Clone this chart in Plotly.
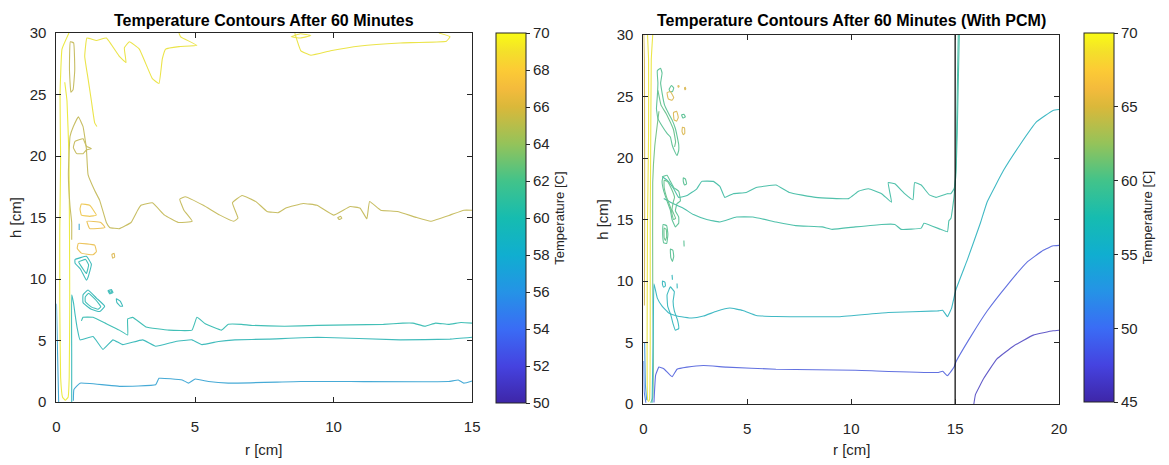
import plotly.graph_objects as go

# ---------------- data: contour paths (r [cm], h [cm]) ----------------
# LEFT panel (no PCM), colour scale 50..70
left_yel_wall = [(0.45,30),(0.2,28.7),(0.13,25),(0.15,19.8),(0.12,13.8),(0.12,8),(0.15,2),(0.22,0.4),(0.32,0.15),(0.42,0.4),(0.46,2),(0.48,8),(0.47,14),(0.45,20),(0.38,24.5),(0.3,26)]
left_olive_narrow = [(0.5,29.3),(0.62,29.2),(0.66,27),(0.6,25.4),(0.52,25.2),(0.47,27)]
left_olive_main = [(0.55,13.2),(0.55,14.6),(0.49,15.9),(0.43,18.5),(0.49,21.6),(0.61,22.4),(0.79,23.2),(0.96,22.4),(1.08,20.6),(1.14,18.5),(1.38,17.2),(1.56,16.4),(1.8,14.6),(1.92,14.2),(2.27,14.1),(2.69,14.6),(2.93,15.6),(3.05,16.0),(3.46,16.2),(3.9,15.2),(4.4,14.6),(4.9,14.7),(4.6,15.6),(4.45,16.5),(4.65,16.7),(5.3,16.0),(5.9,15.2),(6.4,14.7),(6.55,14.95),(6.35,16.2),(6.7,16.8),(7.2,16.3),(7.6,15.5),(8.0,15.4),(8.3,15.8),(8.9,16.15),(9.4,16.0),(10.0,15.2),(10.6,15.9),(10.96,15.76),(11.2,14.9),(11.3,16.3),(11.7,15.6),(12.3,15.5),(13.0,15.0),(13.5,14.7),(14.2,15.2),(14.7,15.6),(15.0,15.6)]
left_olive_loop20 = [(0.67,21.2),(0.96,21.4),(1.08,20.8),(1.26,20.6),(1.08,20.5),(0.96,20.2),(0.73,20.2),(0.61,20.7)]
left_yel_loop15 = [(0.9,16.1),(1.2,16.0),(1.44,15.2),(1.2,15.1),(0.9,15.2),(0.85,15.7)]
left_yel_top1 = [(1.46,22.4),(1.38,22.7),(1.26,24.5),(1.14,26.3),(1.02,28.1),(1.1,29.6),(1.44,29.4),(1.8,29.6),(2.27,28.1),(2.51,27.6),(2.45,28.8),(2.63,29.3),(2.99,28.7),(3.46,26.3),(3.70,25.9),(3.82,27.9),(3.94,28.7),(4.42,28.9),(5.07,29.0),(4.48,29.7),(4.42,30)]
left_yel_top2 = [(8.6,30),(8.82,28.56),(9.18,28.2),(9.89,28.56),(10.96,28.95),(12.4,29.2),(14.07,29.34),(14.2,29.7),(13.8,30)]
left_yel_toploop = [(8.47,29.7),(8.8,29.95),(9.18,29.8),(8.8,29.6)]
left_olive_dot15 = [(10.15,15.0),(10.25,15.1),(10.3,14.95),(10.2,14.85)]
left_olive_loop13 = [(0.79,12.9),(1.38,12.76),(1.44,12.24),(1.32,11.98),(0.90,12.11),(0.75,12.5)]
left_olive_loop14 = [(1.1,14.7),(1.6,14.6),(1.75,14.2),(1.2,14.1)]
left_olive_dot12 = [(2.0,12.0),(2.08,12.1),(2.1,11.8),(2.03,11.7)]
left_isl1_out = [(0.67,11.59),(1.08,11.85),(1.26,11.2),(1.14,10.15),(1.08,9.9),(0.87,10.8),(0.67,11.3)]
left_isl1_in = [(0.8,11.4),(1.05,11.6),(1.16,11.15),(1.08,10.45),(0.92,10.95)]
left_isl2_out = [(0.96,8.72),(1.14,9.11),(1.44,8.46),(1.74,7.8),(1.56,7.36),(1.26,7.54),(0.96,8.07)]
left_isl2_in = [(1.04,8.55),(1.16,8.85),(1.42,8.3),(1.6,7.75),(1.5,7.55),(1.27,7.72),(1.04,8.15)]
left_isl3_out = [(1.86,9.05),(1.98,9.15),(2.04,8.9),(1.92,8.8)]
left_isl3_in = [(1.9,9.0),(1.98,9.05),(2.0,8.92),(1.94,8.88)]
left_isl4 = [(2.16,8.4),(2.3,8.2),(2.39,7.8),(2.3,7.8),(2.18,8.1)]
left_teal_A = [(0.9,6.6),(0.96,6.89),(1.32,6.89),(1.80,6.37),(2.27,5.85),(2.57,5.45),(2.57,6.76),(2.75,6.89),(3.23,6.11),(4.06,5.85),(4.89,5.85),(5.07,6.89),(5.37,6.37),(5.96,5.85),(6.20,6.32),(6.68,6.32),(7.04,6.24),(8.23,6.16),(9.42,6.24),(11.8,6.32),(12.5,6.42),(12.86,6.42),(13.3,6.16),(13.68,6.42),(14.15,6.32),(14.6,6.47),(15.0,6.42)]
left_teal_B = [(0.55,0.0),(0.55,4.0),(0.55,8.72),(0.62,8.0),(0.67,7.15),(0.75,6.0),(0.85,5.06),(1.32,5.33),(1.68,4.28),(2.04,5.06),(2.39,4.67),(3.11,5.06),(3.58,4.54),(4.30,4.93),(4.89,5.06),(5.25,4.67),(5.85,4.93),(6.44,5.06),(7.64,5.12),(9.42,5.27),(12.4,5.06),(14.2,5.12),(15.0,5.27)]
left_blue_C = [(0.61,0.1),(0.63,1.02),(0.85,1.54),(2.27,1.28),(3.58,1.41),(3.70,1.93),(4.54,1.80),(4.77,1.54),(5.01,1.88),(5.49,1.67),(6.20,1.54),(8.82,1.67),(10.6,1.67),(14.15,1.67),(14.5,1.80),(14.7,1.54),(15.0,1.72)]
left_blue_D = [(0.0,8.0),(0.03,5.0),(0.06,2.0),(0.08,0.0)]
left_blue_tick = [(0.82,14.5),(0.82,14.0)]

LEFT_CONTOURS = [
    (69.8, False, left_yel_wall), (65.5, True, left_olive_narrow), (65.5, False, left_olive_main),
    (65.5, True, left_olive_loop20), (68.0, True, left_yel_loop15), (69.5, False, left_yel_top1),
    (69.5, False, left_yel_top2), (69.5, True, left_yel_toploop), (65.5, True, left_olive_dot15),
    (67.5, True, left_olive_loop13), (67.5, True, left_olive_loop14), (66.5, True, left_olive_dot12),
    (59.5, True, left_isl1_out), (59.8, True, left_isl1_in), (59.5, True, left_isl2_out),
    (59.8, True, left_isl2_in), (59.5, True, left_isl3_out), (59.8, True, left_isl3_in),
    (59.5, True, left_isl4), (60.0, False, left_teal_A), (59.5, False, left_teal_B),
    (57.0, False, left_blue_C), (57.0, False, left_blue_D), (57.0, False, left_blue_tick),
]

# RIGHT panel (with PCM), colour scale 45..70
right_yel_wall = [(0.45,30),(0.38,28),(0.35,20),(0.33,15),(0.33,5),(0.3,0.4),(0.25,0.2),(0.2,0.4),(0.18,5),(0.2,15),(0.22,17.5),(0.25,22),(0.25,28),(0.2,30)]
right_brown_wall = [(0.02,30),(0.05,28),(0.06,20),(0.06,14),(0.05,8)]
right_green_wall = [(0.75,23.8),(0.55,21),(0.45,18),(0.45,10),(0.48,3),(0.45,0.5),(0.35,0.1)]
right_blue_wall1 = [(0.01,3.5),(0.04,1.0),(0.12,0.1)]
right_blue_wall2 = [(0.06,5),(0.1,1.5),(0.16,0.3)]
right_teal_mid = [(0.42,0.1),(0.47,5.0),(0.51,9.78),(0.67,8.61),(0.9,7.96),(1.22,7.4),(1.62,7.15),(2.33,6.99),(2.89,7.15),(3.52,7.54),(4.16,7.8),(4.79,7.6),(5.43,7.2),(6.38,7.12),(9.4,7.1),(11.78,7.44),(14.16,7.57),(14.4,7.62),(14.63,7.1),(14.83,7.8),(15.03,9.26),(15.59,11.74),(16.22,14.74),(16.54,16.43),(17.33,19.0),(18.13,21.1),(18.92,22.95),(19.71,23.87),(20.0,23.95)]
right_blue_low = [(0.51,0.13),(0.59,2.35),(0.75,3.0),(0.98,2.87),(1.38,2.22),(1.62,2.83),(2.10,3.0),(2.89,3.13),(4.0,3.0),(6.38,2.83),(10.2,2.74),(14.16,2.56),(14.4,2.66),(14.63,2.30),(14.95,3.0),(15.03,3.4),(15.75,5.48),(16.54,7.56),(17.5,9.65),(18.44,11.5),(19.24,12.5),(19.71,12.86),(20.0,12.9)]
right_purple = [(15.9,0.0),(15.98,0.78),(16.38,2.09),(17.0,3.65),(17.8,4.7),(18.76,5.6),(19.71,5.95),(20.0,6.0)]
right_pair_upper = [(0.9,18.5),(1.14,18.2),(1.46,17.5),(1.70,16.8),(2.10,16.95),(2.57,17.5),(2.81,18.1),(3.37,18.1),(3.68,17.7),(3.92,16.8),(4.32,17.1),(4.95,17.2),(5.43,17.6),(6.38,17.8),(7.02,17.2),(8.29,16.8),(9.87,16.7),(10.35,17.3),(10.83,17.5),(11.46,17.1),(11.94,16.4),(11.78,18.0),(12.1,17.9),(12.57,17.1),(12.97,16.6),(13.05,18.0),(13.37,17.8),(13.76,17.0),(14.08,16.8),(14.63,17.1),(14.79,17.1),(14.95,17.5),(15.03,18.5),(15.1,22.0),(15.15,26.0),(15.2,30.0)]
right_pair_lower = [(0.98,16.7),(1.30,16.4),(1.94,15.9),(2.41,15.4),(3.05,15.0),(3.68,14.8),(4.48,15.2),(5.27,15.2),(6.38,14.8),(7.33,14.5),(8.6,14.4),(9.08,14.2),(10.2,14.4),(11.46,14.6),(12.1,14.6),(12.4,14.2),(13.37,14.3),(13.5,14.7),(14.3,14.2),(14.63,14.0),(14.7,14.9),(14.8,15.1),(14.95,16.9),(15.05,20.0),(15.1,25.0),(15.15,30.0)]
right_upper_out = [(0.67,27.1),(0.83,27.3),(0.90,26.9),(0.83,26.1),(0.90,25.3),(1.02,24.3),(1.22,23.6),(1.38,23.1),(1.54,22.4),(1.62,21.8),(1.70,21.1),(1.70,20.6),(1.62,20.2),(1.49,20.6),(1.38,21.1),(1.30,21.7),(1.14,22.0),(0.90,22.6),(0.70,23.2),(0.63,24.0),(0.67,25.0),(0.70,26.1)]
right_upper_in = [(0.7,25.5),(0.85,24.3),(1.1,23.6),(1.3,22.9),(1.45,22.3),(1.55,21.3),(1.5,20.9)]
right_lower_out = [(0.95,18.5),(1.14,18.6),(1.30,18.1),(1.46,17.6),(1.70,17.3),(1.78,16.5),(1.62,16.3),(1.54,15.7),(1.70,15.2),(1.70,14.7),(1.54,14.4),(1.38,15.0),(1.30,15.75),(1.14,16.5),(0.98,17.3),(0.90,18.1)]
right_lower_in = [(1.0,18.2),(1.15,18.1),(1.35,17.5),(1.5,16.8),(1.45,16.5),(1.38,15.8),(1.55,15.1),(1.45,15.0),(1.3,16.0),(1.1,16.9),(1.0,17.6)]
right_grn_isl_a = [(1.24,25.6),(1.35,25.9),(1.46,25.7),(1.4,25.4),(1.28,25.4)]
right_org_isl_a = [(1.14,25.3),(1.3,25.4),(1.46,24.9),(1.38,24.7),(1.2,24.8)]
right_org_dot1 = [(1.66,25.85),(1.7,25.9),(1.72,25.8),(1.68,25.75)]
right_org_dot2 = [(1.98,25.7),(2.02,25.75),(2.04,25.6),(2.0,25.55)]
right_org_isl_b = [(1.45,23.7),(1.6,23.8),(1.68,23.3),(1.6,23.0),(1.48,23.1)]
right_grn_isl_b = [(1.84,23.5),(1.95,23.55),(2.02,23.35),(1.9,23.25)]
right_org_isl_c = [(1.88,22.5),(1.98,22.45),(1.99,22.0),(1.92,21.9),(1.86,22.15)]
right_grn_isl_c = [(1.92,18.4),(2.02,18.3),(2.08,17.9),(1.98,17.8),(1.92,18.1)]
right_grn_isl_d = [(0.95,14.6),(1.12,14.5),(1.18,13.8),(1.12,13.05),(0.98,13.1),(0.93,13.8)]
right_grn_isl_d_in = [(1.0,14.3),(1.1,14.2),(1.12,13.6),(1.06,13.3),(1.0,13.5)]
right_grn_isl_e = [(1.3,12.6),(1.42,12.5),(1.46,12.0),(1.4,11.6),(1.32,11.9)]
right_grn_dot_f = [(1.95,13.3),(1.96,12.8)]
right_teal_isl_g = [(0.92,10.0),(1.04,9.9),(1.06,9.6),(0.98,9.5),(0.92,9.7)]
right_teal_dot_h = [(1.38,10.5),(1.40,10.1)]
right_teal_dot_i = [(1.62,9.8),(1.63,9.4)]
right_teal_dend = [(1.30,9.52),(1.49,9.13),(1.43,8.35),(1.49,7.57),(1.65,6.78),(1.70,6.13),(1.54,6.0),(1.43,6.52),(1.33,7.18),(1.17,7.96),(1.14,8.87)]

RIGHT_CONTOURS = [
    (69.5, False, right_yel_wall), (65.0, False, right_brown_wall), (61.0, False, right_green_wall),
    (50.0, False, right_blue_wall1), (52.5, False, right_blue_wall2), (56.0, False, right_teal_mid),
    (48.5, False, right_blue_low), (46.5, False, right_purple), (58.5, False, right_pair_upper),
    (58.5, False, right_pair_lower), (60.0, True, right_upper_out), (60.5, False, right_upper_in),
    (60.0, True, right_lower_out), (60.5, True, right_lower_in), (60.0, True, right_grn_isl_a),
    (65.5, True, right_org_isl_a), (65.5, True, right_org_dot1), (65.5, True, right_org_dot2),
    (65.5, True, right_org_isl_b), (60.0, True, right_grn_isl_b), (65.5, True, right_org_isl_c),
    (60.0, True, right_grn_isl_c), (60.0, True, right_grn_isl_d), (60.5, True, right_grn_isl_d_in),
    (60.0, True, right_grn_isl_e), (60.0, False, right_grn_dot_f), (56.5, True, right_teal_isl_g),
    (56.5, False, right_teal_dot_h), (56.5, False, right_teal_dot_i), (56.5, True, right_teal_dend),
]

pcm_wall_r = [15, 15]
pcm_wall_h = [0, 30]

left_cbar_ticks = [50, 52, 54, 56, 58, 60, 62, 64, 66, 68, 70]
right_cbar_ticks = [45, 50, 55, 60, 65, 70]
left_x_ticks = [0, 5, 10, 15]
right_x_ticks = [0, 5, 10, 15, 20]
y_ticks = [0, 5, 10, 15, 20, 25, 30]

# ---------------- styling ----------------
PARULA = [
    (0.00, (62, 38, 168)), (0.10, (69, 67, 224)), (0.20, (58, 108, 245)), (0.30, (37, 147, 230)),
    (0.40, (16, 174, 208)), (0.50, (22, 188, 176)), (0.60, (66, 195, 138)), (0.70, (148, 195, 90)),
    (0.80, (218, 184, 58)), (0.85, (244, 187, 60)), (0.90, (252, 203, 53)), (0.95, (244, 224, 42)),
    (1.00, (249, 251, 21)),
]
PARULA_SCALE = [[p, "rgb(%d,%d,%d)" % c] for p, c in PARULA]


def parula(t, mute=0.0):
    t = max(0.0, min(1.0, t))
    col = PARULA[-1][1]
    for (p0, c0), (p1, c1) in zip(PARULA[:-1], PARULA[1:]):
        if t <= p1:
            f = (t - p0) / (p1 - p0)
            col = tuple(a + (b - a) * f for a, b in zip(c0, c1))
            break
    col = tuple(round(c * (1 - mute) + 200 * mute) for c in col)
    return "rgb(%d,%d,%d)" % col


FONT = "Liberation Sans, Arial, Helvetica, sans-serif"
INK = "#262626"
W, H = 1169, 465

fig = go.Figure()


def add_contours(contours, cmin, cmax, xa, ya):
    for lev, closed, pts in contours:
        rs = [p[0] for p in pts]
        hs = [p[1] for p in pts]
        if closed:
            rs.append(rs[0])
            hs.append(hs[0])
        fig.add_trace(go.Scatter(x=rs, y=hs, mode="lines", xaxis=xa, yaxis=ya,
                                 line=dict(color=parula((lev - cmin) / (cmax - cmin), 0.25), width=1.1,
                                           shape="spline", smoothing=0.3),
                                 hoverinfo="skip", showlegend=False))


add_contours(LEFT_CONTOURS, 50, 70, "x", "y")
add_contours(RIGHT_CONTOURS, 45, 70, "x2", "y2")

fig.add_trace(go.Scatter(x=pcm_wall_r, y=pcm_wall_h, mode="lines", xaxis="x2", yaxis="y2",
                         line=dict(color="black", width=1.2), hoverinfo="skip", showlegend=False))


def cbar_trace(cmin, cmax, ticks, x0, y0, y1, xa, ya):
    return go.Scatter(
        x=[None], y=[None], mode="markers", xaxis=xa, yaxis=ya, showlegend=False, hoverinfo="skip",
        marker=dict(color=[cmin], cmin=cmin, cmax=cmax, colorscale=PARULA_SCALE, showscale=True,
                    colorbar=dict(x=x0 / W, xanchor="left", xpad=0, y=1 - y0 / H, yanchor="top", ypad=0,
                                  len=(y1 - y0) / H, lenmode="fraction", thickness=30,
                                  thicknessmode="pixels", outlinewidth=1, outlinecolor=INK,
                                  ticks="outside", ticklen=4, tickcolor=INK, tickvals=ticks,
                                  tickfont=dict(family=FONT, size=15, color=INK),
                                  title=dict(text="Temperature [C]", side="right",
                                             font=dict(family=FONT, size=13, color=INK)))))


fig.add_trace(cbar_trace(50, 70, left_cbar_ticks, 497, 25, 409, "x", "y"))
fig.add_trace(cbar_trace(45, 70, right_cbar_ticks, 1091, 25, 408, "x2", "y2"))

axis_common = dict(showline=True, linecolor=INK, linewidth=1, mirror="ticks", ticks="inside",
                   ticklen=5, tickcolor=INK, showgrid=False, zeroline=False,
                   tickfont=dict(family=FONT, size=15, color=INK))

fig.update_layout(
    width=W, height=H, margin=dict(l=0, r=0, t=0, b=0),
    paper_bgcolor="white", plot_bgcolor="white", showlegend=False,
    xaxis=dict(domain=[53 / W, 473 / W], range=[0, 15], tickvals=left_x_ticks, anchor="y",
               ticklabelstandoff=11, **axis_common),
    yaxis=dict(domain=[1 - 408 / H, 1 - 25 / H], range=[0, 30], tickvals=y_ticks, anchor="x",
               ticklabelstandoff=6, **axis_common),
    xaxis2=dict(domain=[646 / W, 1066 / W], range=[0, 20], tickvals=right_x_ticks, anchor="y2",
                ticklabelstandoff=11, **axis_common),
    yaxis2=dict(domain=[1 - 410 / H, 1 - 27 / H], range=[0, 30], tickvals=y_ticks, anchor="x2",
                ticklabelstandoff=6, **axis_common),
)

annots = [
    dict(text="<b>Temperature Contours After 60 Minutes</b>", x=263 / W, y=1 - 12 / H, size=16, angle=0),
    dict(text="<b>Temperature Contours After 60 Minutes (With PCM)</b>", x=856 / W, y=1 - 12 / H, size=16, angle=0),
    dict(text="r [cm]", x=263 / W, y=1 - 457 / H, size=15, angle=0),
    dict(text="r [cm]", x=857 / W, y=1 - 457 / H, size=15, angle=0),
    dict(text="h [cm]", x=11 / W, y=1 - 216 / H, size=15, angle=-90),
    dict(text="h [cm]", x=604 / W, y=1 - 218 / H, size=15, angle=-90),
]
for a in annots:
    fig.add_annotation(text=a["text"], x=a["x"], y=a["y"], xref="paper", yref="paper",
                       xanchor="center", yanchor="middle", showarrow=False, textangle=a["angle"],
                       font=dict(family=FONT, size=a["size"], color="black" if "<b>" in a["text"] else INK))

fig.write_html("out.html")
